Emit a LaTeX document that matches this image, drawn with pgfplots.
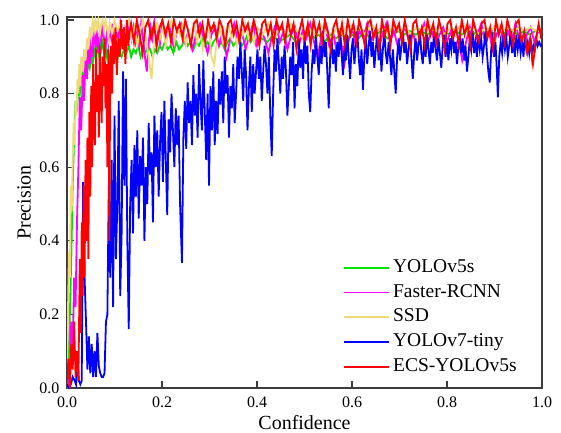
\documentclass[border=0pt]{standalone}
\usepackage{pgfplots}
\pgfplotsset{compat=1.18}
\usepackage{fontspec}
\setmainfont{Liberation Serif}
\definecolor{cgreen}{RGB}{0,225,0}
\definecolor{cmag}{RGB}{255,0,255}
\definecolor{cyel}{RGB}{238,218,120}
\definecolor{cblue}{RGB}{0,0,255}
\definecolor{cred}{RGB}{255,0,0}
\definecolor{axgray}{RGB}{60,60,60}
\begin{document}
\begin{tikzpicture}
\useasboundingbox (0pt,0pt) rectangle (561pt,432pt);
\begin{axis}[
  at={(67pt,44pt)}, anchor=south west,
  scale only axis, width=475pt, height=371pt,
  xmin=0, xmax=1, ymin=0, ymax=1.008,
  xtick={0,0.2,0.4,0.6,0.8,1}, ytick={0,0.2,0.4,0.6,0.8,1},
  xticklabels={0.0,0.2,0.4,0.6,0.8,1.0},
  yticklabels={0.0,0.2,0.4,0.6,0.8,1.0},
  tick pos=left, tick align=inside, major tick length=7pt,
  minor tick num=0,
  axis line style={axgray, line width=1.2pt},
  every tick/.style={axgray, line width=1.2pt},
  tick label style={font=\rmfamily\fontsize{16}{19}\selectfont},
  xticklabel style={yshift=-5pt},
  yticklabel style={xshift=-4pt},
  xlabel={Confidence}, ylabel={Precision},
  label style={font=\rmfamily\fontsize{20}{24}\selectfont},
  xlabel style={at={(axis description cs:0.5,-0.1105)}, anchor=base},
  ylabel style={at={(axis description cs:-0.0905,0.5)}, anchor=center, rotate=0},
  legend style={at={(axis description cs:0.575,0.363)}, anchor=north west, draw=none, fill=none,
    font=\rmfamily\fontsize{19.5}{23}\selectfont,
    nodes={inner xsep=3pt, inner ysep=2.85pt, text height=14pt, text depth=5pt}},
  legend cell align=left,
  legend image code/.code={\draw[#1] (0pt,0pt) -- (45pt,0pt);},
]
% YOLOv5s
\addplot[color=cgreen, line width=1.8pt] coordinates {
(0.000,0.00)(0.003,0.05)(0.006,0.20)(0.009,0.35)(0.012,0.55)(0.015,0.68)(0.018,0.78)(0.021,0.75)
(0.024,0.82)(0.027,0.80)(0.030,0.84)(0.033,0.86)(0.036,0.83)(0.039,0.87)(0.042,0.85)(0.045,0.89)
(0.048,0.87)(0.051,0.90)(0.054,0.88)(0.057,0.92)(0.060,0.90)(0.063,0.93)(0.066,0.91)(0.069,0.94)
(0.072,0.92)(0.075,0.94)(0.078,0.91)(0.081,0.93)(0.084,0.90)(0.087,0.92)(0.090,0.89)(0.093,0.91)
(0.096,0.90)(0.100,0.92)(0.105,0.89)(0.110,0.91)(0.115,0.90)(0.120,0.92)(0.125,0.91)(0.130,0.93)
(0.135,0.90)(0.140,0.92)(0.145,0.91)(0.150,0.93)(0.155,0.90)(0.160,0.92)(0.165,0.91)(0.170,0.93)
(0.175,0.92)(0.180,0.90)(0.185,0.92)(0.190,0.91)(0.195,0.93)(0.200,0.92)(0.206,0.94)(0.212,0.92)
(0.218,0.93)(0.224,0.91)(0.230,0.94)(0.236,0.92)(0.242,0.93)(0.248,0.95)(0.254,0.93)(0.260,0.94)
(0.266,0.92)(0.272,0.94)(0.278,0.93)(0.284,0.95)(0.290,0.93)(0.296,0.94)(0.302,0.92)(0.308,0.94)
(0.314,0.95)(0.320,0.93)(0.326,0.94)(0.332,0.92)(0.338,0.94)(0.344,0.95)(0.350,0.93)(0.356,0.94)
(0.362,0.95)(0.368,0.93)(0.374,0.94)(0.380,0.96)(0.386,0.94)(0.392,0.95)(0.398,0.93)(0.410,0.95)
(0.422,0.94)(0.434,0.96)(0.446,0.94)(0.458,0.95)(0.470,0.96)(0.482,0.94)(0.494,0.95)(0.506,0.96)
(0.518,0.95)(0.530,0.96)(0.542,0.94)(0.554,0.96)(0.566,0.95)(0.578,0.96)(0.590,0.95)(0.602,0.96)
(0.614,0.95)(0.626,0.97)(0.638,0.95)(0.650,0.96)(0.662,0.97)(0.674,0.95)(0.686,0.96)(0.698,0.97)
(0.710,0.96)(0.722,0.97)(0.734,0.96)(0.746,0.97)(0.758,0.96)(0.770,0.97)(0.782,0.96)(0.794,0.97)
(0.806,0.96)(0.818,0.97)(0.830,0.96)(0.842,0.97)(0.854,0.96)(0.866,0.97)(0.878,0.96)(0.890,0.97)
(0.902,0.96)(0.914,0.97)(0.926,0.96)(0.938,0.97)(0.950,0.96)(0.962,0.97)(0.974,0.96)(0.986,0.97)
(1.000,0.965)};
\addlegendentry{YOLOv5s}
% Faster-RCNN
\addplot[color=cmag, line width=1.8pt] coordinates {
(0.000,0.02)(0.003,0.00)(0.006,0.05)(0.009,0.18)(0.012,0.10)(0.015,0.30)(0.018,0.22)(0.021,0.45)
(0.024,0.60)(0.027,0.79)(0.030,0.70)(0.033,0.85)(0.036,0.78)(0.039,0.90)(0.042,0.84)(0.045,0.93)
(0.048,0.88)(0.051,0.96)(0.054,0.90)(0.057,0.98)(0.060,0.93)(0.063,0.96)(0.066,0.91)(0.069,0.97)
(0.072,0.94)(0.075,0.99)(0.078,0.95)(0.081,0.92)(0.084,0.97)(0.087,0.94)(0.090,0.98)(0.093,0.95)
(0.096,0.99)(0.100,0.93)(0.104,0.97)(0.108,0.95)(0.112,0.99)(0.116,0.94)(0.120,0.97)(0.124,0.92)
(0.128,0.96)(0.132,0.99)(0.136,0.95)(0.140,0.98)(0.144,0.94)(0.148,0.97)(0.152,0.93)(0.156,0.99)
(0.160,0.95)(0.164,0.90)(0.168,0.86)(0.172,0.94)(0.176,0.98)(0.180,0.95)(0.184,0.99)(0.188,0.93)
(0.192,0.97)(0.196,0.94)(0.200,0.99)(0.208,0.95)(0.216,0.98)(0.224,0.93)(0.232,0.97)(0.240,0.99)
(0.248,0.94)(0.256,0.97)(0.264,0.92)(0.272,0.96)(0.280,0.99)(0.288,0.95)(0.296,0.91)(0.304,0.96)
(0.312,0.98)(0.320,0.93)(0.328,0.97)(0.336,0.90)(0.344,0.95)(0.352,0.99)(0.360,0.94)(0.368,0.97)
(0.376,0.92)(0.384,0.96)(0.392,0.99)(0.400,0.93)(0.408,0.97)(0.416,0.95)(0.424,0.91)(0.432,0.96)
(0.440,0.99)(0.448,0.94)(0.456,0.97)(0.464,0.92)(0.472,0.96)(0.480,0.98)(0.488,0.93)(0.496,0.97)
(0.504,0.95)(0.512,0.99)(0.520,0.94)(0.528,0.90)(0.536,0.96)(0.544,0.98)(0.552,0.93)(0.560,0.97)
(0.568,0.91)(0.576,0.95)(0.584,0.88)(0.592,0.94)(0.600,0.98)(0.608,0.93)(0.616,0.97)(0.624,0.95)
(0.632,0.99)(0.640,0.94)(0.648,0.97)(0.656,0.92)(0.664,0.96)(0.672,0.99)(0.680,0.94)(0.688,0.97)
(0.696,0.93)(0.704,0.96)(0.712,0.98)(0.720,0.94)(0.728,0.97)(0.736,0.92)(0.744,0.96)(0.752,0.99)
(0.760,0.94)(0.768,0.97)(0.776,0.93)(0.784,0.96)(0.792,0.98)(0.800,0.94)(0.808,0.97)(0.816,0.92)
(0.824,0.95)(0.832,0.89)(0.840,0.94)(0.848,0.98)(0.856,0.93)(0.864,0.96)(0.872,0.99)(0.880,0.94)
(0.888,0.97)(0.896,0.92)(0.904,0.96)(0.912,0.98)(0.920,0.93)(0.928,0.97)(0.936,0.94)(0.944,0.99)
(0.952,0.95)(0.960,0.92)(0.968,0.96)(0.976,0.98)(0.984,0.94)(0.992,0.97)(1.000,0.96)};
\addlegendentry{Faster-RCNN}
% SSD
\addplot[color=cyel, line width=1.8pt] coordinates {
(0.000,0.05)(0.002,0.20)(0.004,0.37)(0.006,0.30)(0.008,0.55)(0.010,0.48)(0.012,0.62)(0.014,0.72)
(0.016,0.66)(0.018,0.78)(0.020,0.74)(0.022,0.84)(0.024,0.80)(0.026,0.88)(0.028,0.82)(0.030,0.90)
(0.033,0.86)(0.036,0.92)(0.039,0.89)(0.042,0.95)(0.045,0.92)(0.048,0.98)(0.051,0.95)(0.054,1.00)
(0.057,0.97)(0.060,1.00)(0.063,0.98)(0.066,1.00)(0.069,0.96)(0.072,0.99)(0.075,1.00)(0.078,0.97)
(0.081,1.00)(0.084,0.98)(0.087,0.95)(0.090,0.99)(0.095,0.96)(0.100,1.00)(0.106,0.97)(0.112,0.99)
(0.118,0.94)(0.124,0.98)(0.130,1.00)(0.136,0.95)(0.142,0.98)(0.148,0.93)(0.154,0.97)(0.160,1.00)
(0.166,0.95)(0.172,0.90)(0.178,0.84)(0.184,0.96)(0.190,0.99)(0.196,0.95)(0.202,0.98)(0.208,0.93)
(0.214,0.97)(0.220,1.00)(0.226,0.94)(0.232,0.98)(0.238,0.96)(0.244,0.99)(0.250,0.93)(0.256,0.97)
(0.262,0.95)(0.268,0.99)(0.274,0.94)(0.280,0.97)(0.286,0.92)(0.292,0.96)(0.298,0.99)(0.304,0.90)
(0.310,0.88)(0.316,0.95)(0.322,0.98)(0.328,0.94)(0.334,0.97)(0.340,0.99)(0.346,0.95)(0.352,0.97)
(0.358,0.93)(0.364,0.98)(0.370,0.96)(0.376,0.99)(0.382,0.95)(0.388,0.97)(0.394,0.94)(0.400,0.98)
(0.412,0.96)(0.424,0.99)(0.436,0.95)(0.448,0.98)(0.460,0.96)(0.472,0.99)(0.484,0.97)(0.496,0.95)
(0.508,0.98)(0.520,0.96)(0.532,0.99)(0.544,0.97)(0.556,0.95)(0.568,0.98)(0.580,0.96)(0.592,0.99)
(0.604,0.97)(0.616,0.98)(0.628,0.96)(0.640,0.99)(0.652,0.97)(0.664,0.98)(0.676,0.96)(0.688,0.99)
(0.700,0.97)(0.712,0.98)(0.724,0.96)(0.736,0.98)(0.748,0.97)(0.760,0.99)(0.772,0.97)(0.784,0.98)
(0.796,0.96)(0.808,0.98)(0.820,0.97)(0.832,0.99)(0.844,0.97)(0.856,0.98)(0.868,0.96)(0.880,0.98)
(0.892,0.97)(0.904,0.99)(0.916,0.97)(0.928,0.98)(0.940,0.97)(0.952,0.98)(0.964,0.97)(0.976,0.98)
(0.988,0.97)(1.000,0.97)};
\addlegendentry{SSD}
% YOLOv7-tiny
\addplot[color=cblue, line width=1.8pt] coordinates {
(0.000,0.01)(0.004,0.00)(0.008,0.01)(0.012,0.03)(0.016,0.02)(0.019,0.01)(0.022,0.09)(0.025,0.02)
(0.028,0.01)(0.031,0.02)(0.034,0.56)(0.037,0.30)(0.040,0.18)(0.043,0.05)(0.046,0.14)(0.049,0.04)
(0.052,0.12)(0.055,0.03)(0.058,0.10)(0.061,0.03)(0.064,0.15)(0.067,0.06)(0.070,0.04)(0.073,0.03)
(0.076,0.03)(0.079,0.04)(0.082,0.18)(0.085,0.20)(0.088,0.55)(0.091,0.30)(0.094,0.62)(0.097,0.22)
(0.100,0.74)(0.103,0.35)(0.106,0.50)(0.109,0.78)(0.112,0.25)(0.115,0.42)(0.118,0.86)(0.121,0.55)
(0.124,0.84)(0.127,0.40)(0.130,0.16)(0.133,0.50)(0.136,0.62)(0.139,0.42)(0.142,0.66)(0.145,0.52)
(0.148,0.70)(0.151,0.46)(0.154,0.63)(0.157,0.55)(0.160,0.68)(0.163,0.40)(0.166,0.60)(0.169,0.50)
(0.172,0.72)(0.175,0.58)(0.178,0.64)(0.181,0.45)(0.184,0.74)(0.187,0.60)(0.190,0.70)(0.193,0.52)
(0.196,0.67)(0.199,0.75)(0.202,0.56)(0.205,0.78)(0.208,0.62)(0.211,0.47)(0.214,0.73)(0.217,0.64)
(0.220,0.80)(0.223,0.70)(0.226,0.60)(0.229,0.76)(0.232,0.66)(0.235,0.74)(0.238,0.50)(0.242,0.34)
(0.245,0.68)(0.248,0.78)(0.251,0.65)(0.254,0.83)(0.257,0.72)(0.260,0.78)(0.263,0.66)(0.266,0.85)
(0.269,0.74)(0.272,0.80)(0.275,0.68)(0.278,0.88)(0.281,0.78)(0.284,0.70)(0.287,0.89)(0.290,0.75)
(0.293,0.62)(0.296,0.80)(0.299,0.55)(0.302,0.82)(0.305,0.70)(0.308,0.86)(0.311,0.66)(0.314,0.78)
(0.317,0.69)(0.320,0.84)(0.323,0.77)(0.326,0.86)(0.329,0.72)(0.332,0.90)(0.335,0.80)(0.338,0.85)
(0.341,0.68)(0.344,0.82)(0.347,0.76)(0.350,0.88)(0.353,0.72)(0.356,0.80)(0.359,0.90)(0.362,0.84)
(0.365,0.94)(0.368,0.86)(0.371,0.78)(0.374,0.92)(0.377,0.85)(0.380,0.70)(0.383,0.82)(0.386,0.90)
(0.389,0.75)(0.392,0.88)(0.395,0.80)(0.398,0.86)(0.401,0.92)(0.404,0.84)(0.407,0.90)(0.410,0.78)
(0.413,0.86)(0.416,0.93)(0.419,0.88)(0.422,0.80)(0.425,0.90)(0.428,0.74)(0.431,0.63)(0.434,0.80)
(0.437,0.92)(0.440,0.86)(0.443,0.95)(0.446,0.88)(0.449,0.80)(0.452,0.90)(0.455,0.84)(0.458,0.93)
(0.461,0.86)(0.464,0.74)(0.467,0.82)(0.470,0.90)(0.473,0.85)(0.476,0.94)(0.479,0.76)(0.482,0.88)
(0.485,0.82)(0.488,0.95)(0.491,0.87)(0.494,0.92)(0.497,0.84)(0.500,0.96)(0.503,0.88)(0.506,0.93)
(0.509,0.80)(0.512,0.75)(0.515,0.86)(0.518,0.92)(0.521,0.88)(0.524,0.96)(0.527,0.90)(0.530,0.85)
(0.533,0.93)(0.536,0.88)(0.539,0.97)(0.542,0.90)(0.545,0.94)(0.548,0.86)(0.551,0.76)(0.554,0.90)
(0.557,0.95)(0.560,0.88)(0.563,0.92)(0.566,0.86)(0.569,0.94)(0.572,0.90)(0.575,0.97)(0.578,0.91)
(0.581,0.85)(0.584,0.93)(0.587,0.89)(0.590,0.96)(0.593,0.90)(0.596,0.84)(0.599,0.92)(0.602,0.95)
(0.605,0.88)(0.608,0.93)(0.611,0.97)(0.614,0.90)(0.617,0.85)(0.620,0.92)(0.623,0.81)(0.626,0.90)
(0.629,0.95)(0.632,0.88)(0.635,0.93)(0.638,0.97)(0.641,0.90)(0.644,0.94)(0.647,0.87)(0.650,0.92)
(0.653,0.96)(0.656,0.89)(0.659,0.94)(0.662,0.86)(0.665,0.92)(0.668,0.97)(0.671,0.91)(0.674,0.88)
(0.677,0.94)(0.680,0.90)(0.683,0.85)(0.686,0.92)(0.689,0.86)(0.692,0.80)(0.695,0.90)(0.698,0.95)
(0.701,0.89)(0.704,0.93)(0.707,0.97)(0.710,0.91)(0.713,0.94)(0.716,0.88)(0.719,0.92)(0.722,0.96)
(0.725,0.90)(0.728,0.84)(0.731,0.91)(0.734,0.95)(0.737,0.89)(0.740,0.93)(0.743,0.97)(0.746,0.91)
(0.749,0.88)(0.752,0.94)(0.755,0.90)(0.758,0.96)(0.761,0.92)(0.764,0.88)(0.767,0.94)(0.770,0.91)
(0.773,0.97)(0.776,0.92)(0.779,0.89)(0.782,0.95)(0.785,0.91)(0.788,0.87)(0.791,0.93)(0.794,0.96)
(0.797,0.90)(0.800,0.94)(0.803,0.89)(0.806,0.95)(0.809,0.92)(0.812,0.97)(0.815,0.91)(0.818,0.94)
(0.821,0.88)(0.824,0.93)(0.827,0.96)(0.830,0.91)(0.833,0.95)(0.836,0.89)(0.839,0.93)(0.842,0.86)
(0.845,0.90)(0.848,0.95)(0.851,0.92)(0.854,0.97)(0.857,0.91)(0.860,0.94)(0.863,0.90)(0.866,0.96)
(0.869,0.92)(0.872,0.95)(0.875,0.90)(0.878,0.93)(0.881,0.97)(0.884,0.91)(0.887,0.86)(0.890,0.83)
(0.893,0.92)(0.896,0.95)(0.899,0.90)(0.902,0.94)(0.905,0.86)(0.907,0.79)(0.910,0.90)(0.913,0.94)
(0.916,0.91)(0.919,0.96)(0.922,0.92)(0.925,0.95)(0.928,0.90)(0.931,0.93)(0.934,0.97)(0.937,0.91)
(0.940,0.94)(0.943,0.90)(0.946,0.96)(0.949,0.92)(0.952,0.95)(0.955,0.91)(0.958,0.94)(0.961,0.90)
(0.964,0.96)(0.967,0.92)(0.970,0.94)(0.973,0.91)(0.976,0.95)(0.979,0.90)(0.982,0.93)(0.985,0.92)
(0.988,0.95)(0.991,0.93)(0.994,0.94)(0.997,0.93)(1.000,0.935)};
\addlegendentry{YOLOv7-tiny}
% ECS-YOLOv5s
\addplot[color=cred, line width=1.8pt] coordinates {
(0.000,0.02)(0.003,0.08)(0.006,0.00)(0.009,0.12)(0.012,0.05)(0.015,0.18)(0.018,0.03)(0.021,0.10)
(0.024,0.02)(0.027,0.35)(0.029,0.15)(0.031,0.45)(0.033,0.25)(0.035,0.55)(0.037,0.30)(0.039,0.62)
(0.041,0.40)(0.043,0.68)(0.045,0.35)(0.047,0.75)(0.049,0.52)(0.051,0.82)(0.053,0.60)(0.055,0.88)
(0.057,0.70)(0.059,0.66)(0.061,0.92)(0.063,0.75)(0.065,0.85)(0.067,0.68)(0.069,0.93)(0.071,0.80)
(0.073,0.72)(0.075,0.90)(0.077,0.82)(0.079,0.95)(0.081,0.76)(0.083,0.88)(0.085,0.60)(0.087,0.92)
(0.089,0.40)(0.091,0.85)(0.093,0.93)(0.095,0.80)(0.097,0.96)(0.099,0.88)(0.102,0.98)(0.105,0.85)
(0.108,0.95)(0.111,0.90)(0.114,1.00)(0.117,0.92)(0.120,0.98)(0.123,0.88)(0.126,1.00)(0.129,0.93)
(0.132,0.97)(0.135,0.99)(0.141,0.94)(0.147,1.00)(0.153,0.96)(0.159,0.91)(0.165,0.98)(0.171,1.00)
(0.177,0.95)(0.183,0.99)(0.189,0.93)(0.195,0.98)(0.201,1.00)(0.207,0.96)(0.213,0.99)(0.219,0.94)
(0.225,1.00)(0.231,0.97)(0.237,0.99)(0.243,0.95)(0.249,1.00)(0.255,0.97)(0.261,0.93)(0.267,0.99)
(0.273,1.00)(0.279,0.96)(0.285,0.99)(0.291,0.94)(0.297,1.00)(0.303,0.97)(0.309,0.99)(0.315,0.95)
(0.321,1.00)(0.327,0.98)(0.333,0.93)(0.339,0.99)(0.345,1.00)(0.351,0.96)(0.357,0.99)(0.363,0.94)
(0.369,1.00)(0.375,0.97)(0.381,0.99)(0.387,0.95)(0.393,1.00)(0.399,0.97)(0.405,0.93)(0.411,0.99)
(0.417,1.00)(0.423,0.96)(0.429,0.99)(0.435,0.93)(0.441,1.00)(0.447,0.97)(0.453,0.99)(0.459,0.94)
(0.465,1.00)(0.471,0.96)(0.477,0.99)(0.483,0.92)(0.489,0.97)(0.495,1.00)(0.501,0.95)(0.507,0.99)
(0.513,0.93)(0.519,1.00)(0.525,0.96)(0.531,0.99)(0.537,0.94)(0.543,1.00)(0.549,0.97)(0.555,0.92)
(0.561,0.98)(0.567,1.00)(0.573,0.95)(0.579,0.99)(0.585,0.93)(0.591,1.00)(0.597,0.96)(0.603,0.99)
(0.609,0.94)(0.615,1.00)(0.621,0.97)(0.627,0.93)(0.633,0.99)(0.639,1.00)(0.645,0.95)(0.651,0.98)
(0.657,0.92)(0.663,1.00)(0.669,0.96)(0.675,0.99)(0.681,0.93)(0.687,1.00)(0.693,0.97)(0.699,0.99)
(0.705,0.94)(0.711,1.00)(0.717,0.96)(0.723,0.92)(0.729,0.99)(0.735,1.00)(0.741,0.95)(0.747,0.98)
(0.753,0.93)(0.759,1.00)(0.765,0.96)(0.771,0.99)(0.777,0.94)(0.783,1.00)(0.789,0.97)(0.795,0.92)
(0.801,0.99)(0.807,1.00)(0.813,0.95)(0.819,0.98)(0.825,0.93)(0.831,1.00)(0.837,0.96)(0.843,0.99)
(0.849,0.93)(0.855,1.00)(0.861,0.97)(0.867,0.94)(0.873,0.99)(0.879,1.00)(0.885,0.95)(0.891,0.98)
(0.897,0.92)(0.903,1.00)(0.909,0.96)(0.915,0.99)(0.921,0.94)(0.927,1.00)(0.933,0.97)(0.939,0.93)
(0.945,0.99)(0.951,1.00)(0.957,0.94)(0.963,0.97)(0.969,0.91)(0.975,0.95)(0.981,0.88)(0.985,0.92)
(0.989,0.96)(0.993,0.99)(0.997,0.96)(1.000,0.98)};
\addlegendentry{ECS-YOLOv5s}
\end{axis}
\end{tikzpicture}
\end{document}
